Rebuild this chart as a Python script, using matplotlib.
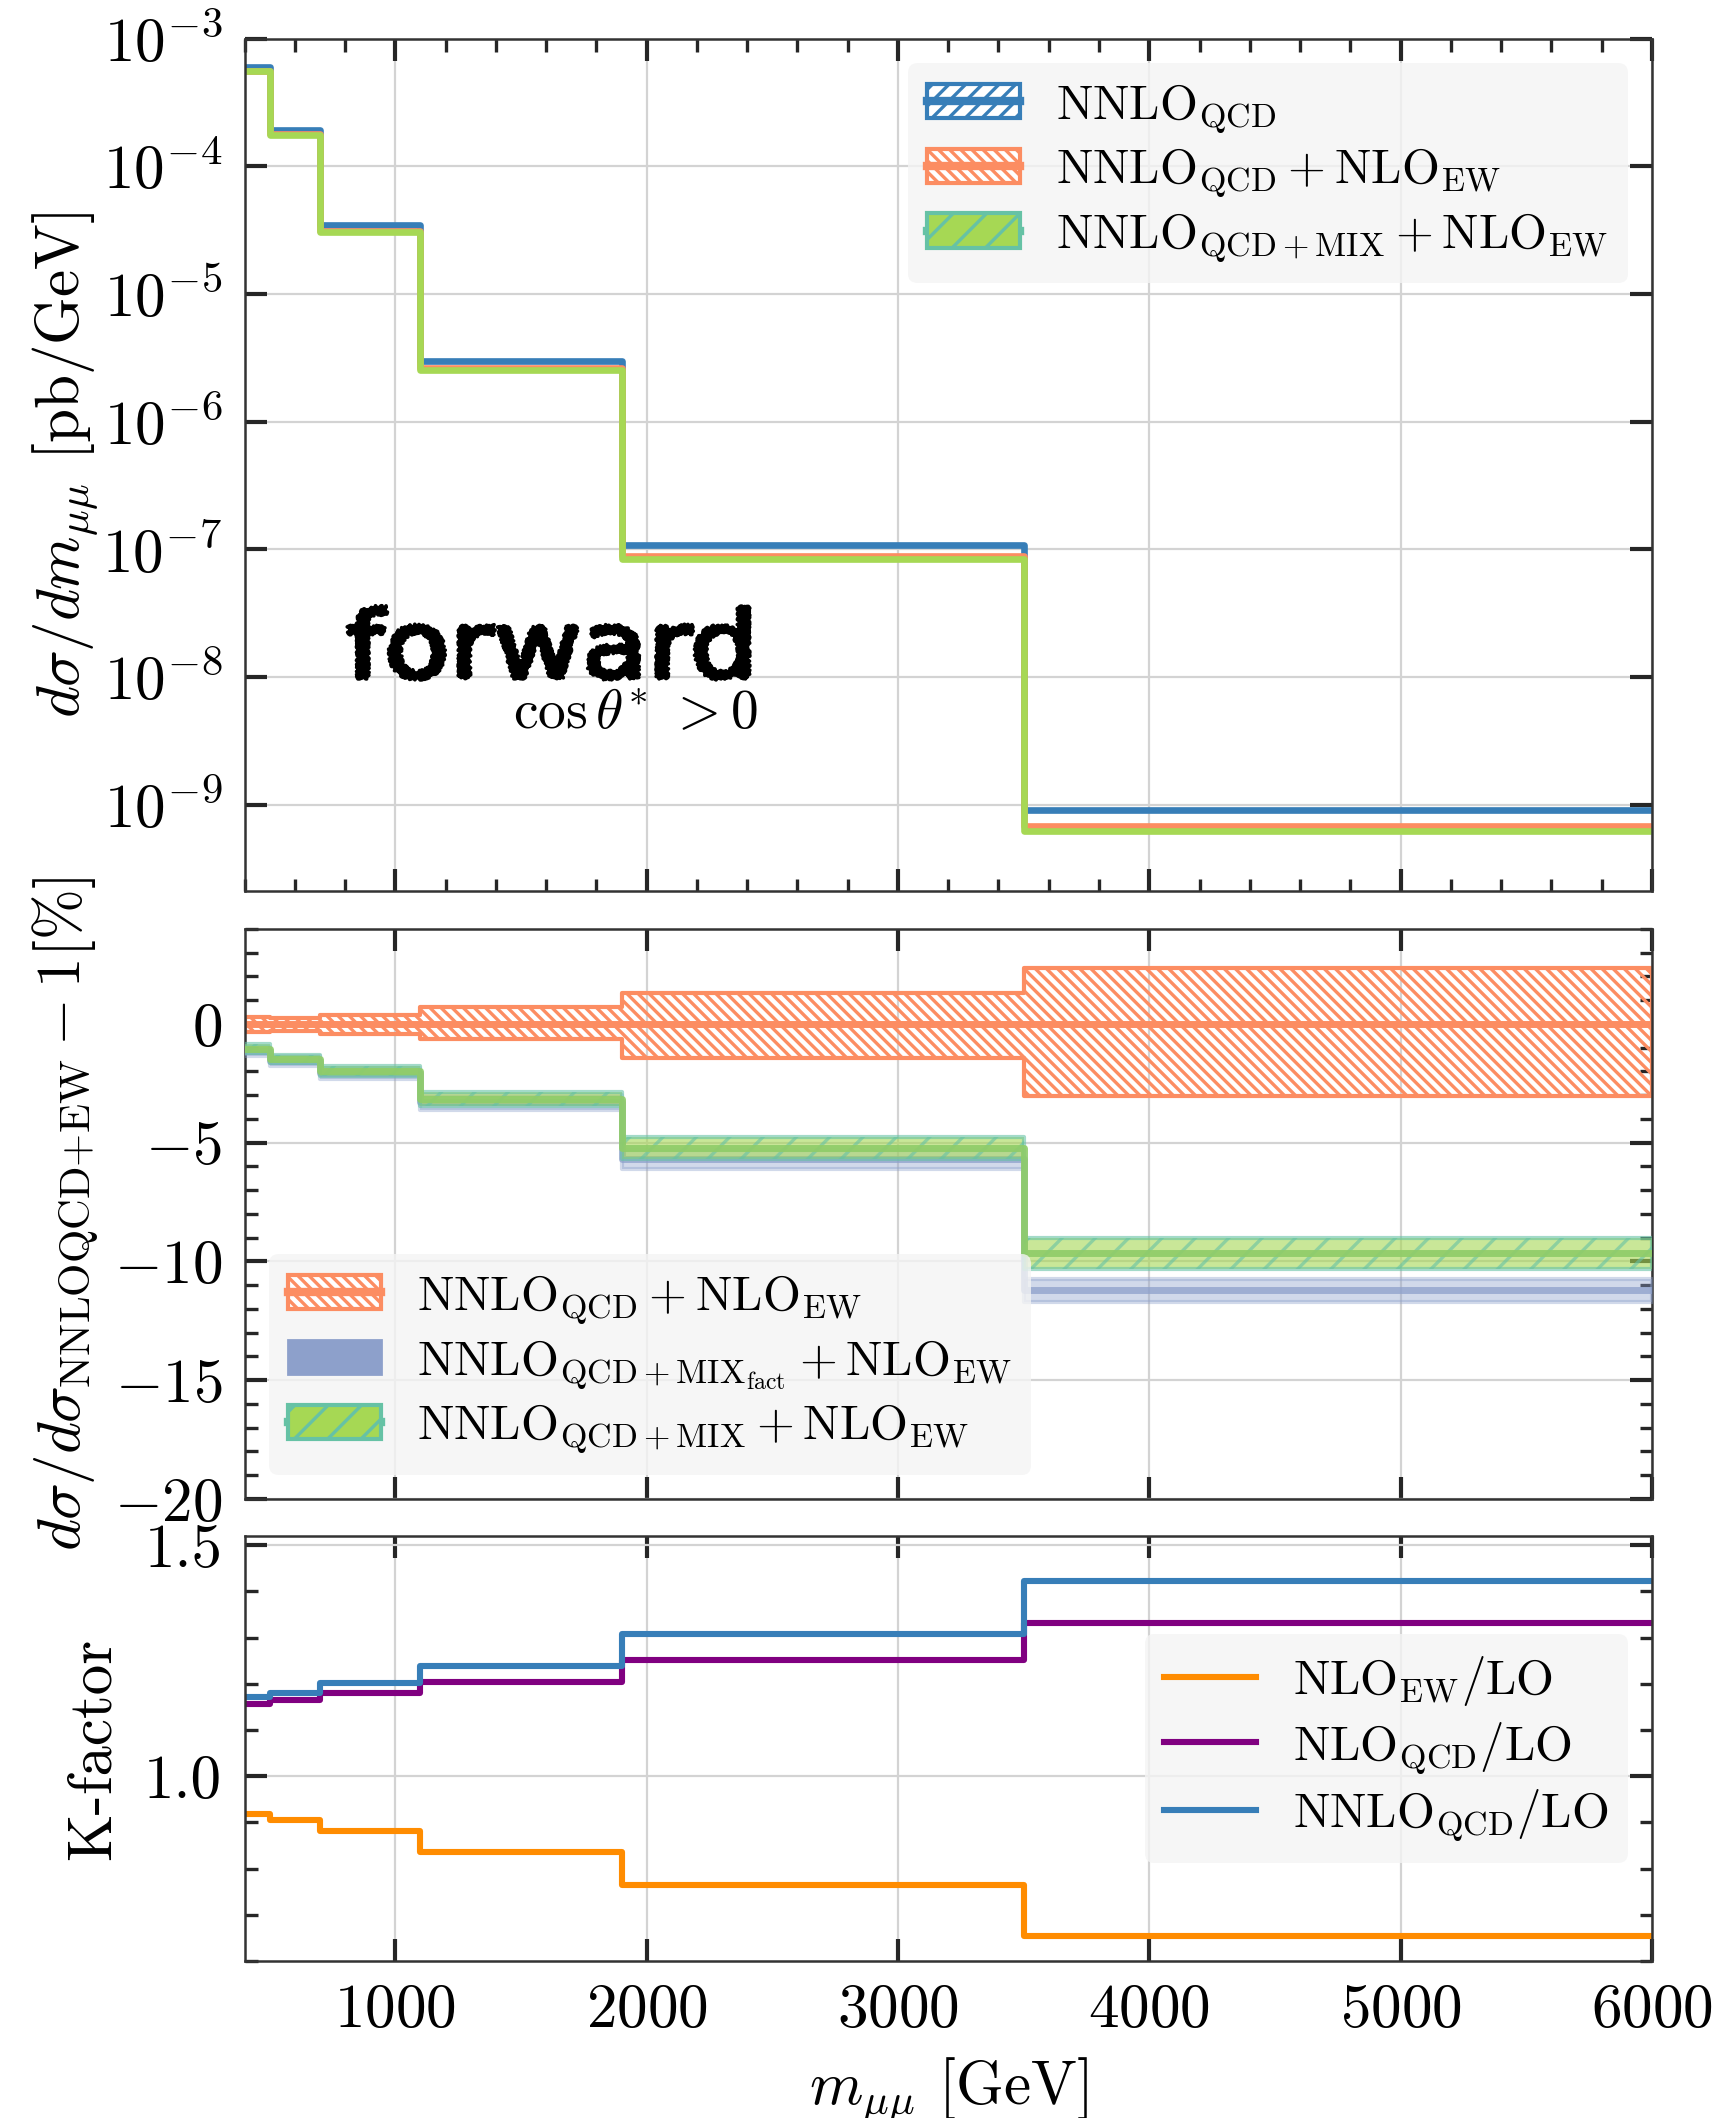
import matplotlib
matplotlib.use("Agg")
import matplotlib.pyplot as plt
import matplotlib.ticker as mticker
import matplotlib.transforms as mtransforms
import numpy as np
from matplotlib.patches import Patch, PathPatch
from matplotlib.lines import Line2D
from matplotlib.textpath import TextPath
from matplotlib.font_manager import FontProperties

plt.rcParams.update({
    'font.family': 'serif',
    'font.serif': ['cmr10'],
    'mathtext.fontset': 'cm',
    'axes.formatter.use_mathtext': True,
    'axes.unicode_minus': True,
    'hatch.linewidth': 1.2,
    'axes.edgecolor': '#333333',
    'axes.linewidth': 0.9,
})

# invariant-mass bins [GeV]
bins = [400, 500, 700, 1100, 1900, 3500, 6000]

# dsigma/dm [pb/GeV]
xs_nnlo_qcd = [6.0e-4, 1.92e-4, 3.44e-5, 3.0e-6, 1.07e-7, 9.0e-10]
xs_nnlo_qcd_ew = [5.6e-4, 1.78e-4, 3.12e-5, 2.62e-6, 8.8e-8, 6.8e-10]
xs_mix_ew = [5.53e-4, 1.75e-4, 3.05e-5, 2.54e-6, 8.35e-8, 6.15e-10]

# ratio to NNLO_QCD+NLO_EW [%]
ew_up = [0.30, 0.25, 0.37, 0.70, 1.31, 2.35]
ew_dn = [-0.35, -0.28, -0.42, -0.63, -1.44, -3.05]
mix_c = [-1.04, -1.47, -1.98, -3.16, -5.22, -9.65]
mix_up = [-0.85, -1.30, -1.76, -2.87, -4.75, -9.0]
mix_dn = [-1.23, -1.65, -2.21, -3.45, -5.70, -10.3]
fact_c = [-1.15, -1.55, -2.08, -3.30, -5.70, -11.2]
fact_up = [-0.95, -1.35, -1.85, -3.00, -5.30, -10.72]
fact_dn = [-1.37, -1.75, -2.31, -3.62, -6.10, -11.71]

# K-factors
k_nlo_ew = [0.918, 0.906, 0.881, 0.836, 0.765, 0.655]
k_nlo_qcd = [1.157, 1.166, 1.181, 1.205, 1.252, 1.331]
k_nnlo_qcd = [1.171, 1.181, 1.202, 1.238, 1.307, 1.4225]

c_blue = '#377eb8'
c_orange = '#fc8d62'
c_green = '#a6d854'
c_teal = '#66c2a5'
c_fact = '#8da0cb'


def st(v):
    return np.append(v, v[-1])


def style_axis(ax, xminor=False):
    ax.set_xlim(400, 6000)
    ax.xaxis.set_major_locator(mticker.MultipleLocator(1000))
    if xminor:
        ax.xaxis.set_minor_locator(mticker.MultipleLocator(200))
    ax.tick_params(which='both', direction='in', top=True, right=True,
                   labelsize=22, pad=8, color='#262626')
    ax.tick_params(which='major', length=8, width=1.5)
    ax.tick_params(which='minor', length=4.5, width=1.2)
    ax.grid(True, which='major', color='#d3d3d3', lw=0.8)
    ax.set_axisbelow(True)


legend_kw = dict(fancybox=True, framealpha=0.8, facecolor='#f4f4f4',
                 edgecolor='none', fontsize=17.5, handlelength=1.9,
                 handletextpad=0.75, labelspacing=0.25)

fig = plt.figure(figsize=(8.61, 10.59), dpi=200)
ax1 = fig.add_axes([0.142, 0.5793, 0.8173, 0.4025])
ax2 = fig.add_axes([0.142, 0.2923, 0.8173, 0.2691])
ax3 = fig.add_axes([0.142, 0.0741, 0.8173, 0.2007])

# --- spectrum
ax1.set_yscale('log')
ax1.plot(bins, st(xs_nnlo_qcd), drawstyle='steps-post', color=c_blue, lw=2.4)
ax1.plot(bins, st(xs_nnlo_qcd_ew), drawstyle='steps-post', color=c_orange, lw=2.4)
ax1.plot(bins, st(xs_mix_ew), drawstyle='steps-post', color=c_green, lw=2.4)
ax1.set_ylim(2.1e-10, 1e-3)
style_axis(ax1, xminor=True)
ax1.yaxis.set_major_locator(mticker.LogLocator(base=10, numticks=20))
ax1.yaxis.set_minor_locator(mticker.NullLocator())
ax1.tick_params(labelbottom=False)
ax1.set_ylabel(r"$d\sigma/dm_{\mu\mu}$ [pb/GeV]", fontsize=22, labelpad=1)

h_blue = (Patch(fc='white', ec=c_blue, hatch='////', lw=1.5),
          Line2D([], [], color=c_blue, lw=3))
h_orange = (Patch(fc='white', ec=c_orange, hatch='\\' * 6, lw=1.5),
            Line2D([], [], color=c_orange, lw=3))
h_green = (Line2D([], [], color=c_teal, lw=3),
           Patch(fc=c_green, ec=c_teal, hatch='//', lw=1.5))
lab_qcd = r"$\mathrm{NNLO_{QCD}}$"
lab_ew = r"$\mathrm{NNLO_{QCD}+NLO_{EW}}$"
lab_mix = r"$\mathrm{NNLO_{QCD+MIX}+NLO_{EW}}$"
lab_fact = r"$\mathrm{NNLO_{QCD+MIX_{fact}}+NLO_{EW}}$"
ax1.legend([h_blue, h_orange, h_green], [lab_qcd, lab_ew, lab_mix],
           loc='upper right', **legend_kw)

# handwritten-style tag
tp = TextPath((0, 0), "forward", size=1,
              prop=FontProperties(family='DejaVu Sans', weight='normal'))
ext = tp.get_extents()
bx0, bx1, by0, by1 = 0.074, 0.358, 0.249, 0.333
tr = (mtransforms.Affine2D().translate(-ext.x0, -ext.y0)
      .scale((bx1 - bx0) / ext.width, (by1 - by0) / ext.height)
      .translate(bx0, by0) + ax1.transAxes)
word = PathPatch(tp, transform=tr, fc='black', ec='black', lw=1.3,
                 joinstyle='round', zorder=5)
word.set_sketch_params(scale=1.5, length=3, randomness=6)
ax1.add_patch(word)
ax1.text(0.278, 0.2076, r"$\cos\theta^{*}\ > 0$", transform=ax1.transAxes,
         ha='center', va='center', fontsize=20)

# --- ratio panel
ax2.fill_between(bins, st(ew_dn), st(ew_up), step='post', fc='none',
                 ec=c_orange, hatch='\\' * 6, lw=1.5, zorder=2)
ax2.plot(bins, st(np.zeros(len(ew_up))), drawstyle='steps-post',
         color=c_orange, lw=2.5, zorder=2)
ax2.fill_between(bins, st(fact_dn), st(fact_up), step='post',
                 fc=c_fact, ec=c_fact, alpha=0.4, lw=1.5, zorder=3)
ax2.plot(bins, st(fact_c), drawstyle='steps-post', color=c_fact,
         lw=2.5, alpha=0.75, zorder=3)
ax2.fill_between(bins, st(mix_dn), st(mix_up), step='post', fc=c_green,
                 ec=c_teal, alpha=0.6, hatch='//', lw=1.5, zorder=4)
ax2.plot(bins, st(mix_c), drawstyle='steps-post', color='#8fcc68',
         lw=2.5, alpha=0.9, zorder=4)
ax2.set_ylim(-20, 4)
style_axis(ax2)
ax2.yaxis.set_major_locator(mticker.MultipleLocator(5))
ax2.yaxis.set_minor_locator(mticker.MultipleLocator(1))
ax2.tick_params(labelbottom=False)
ax2.set_ylabel(r"$d\sigma/d\sigma_{\rm NNLOQCD{+}EW} - 1 [\%]$", fontsize=22,
               labelpad=5)
h_fact = Patch(fc=c_fact, ec=c_fact, lw=1.0)
ax2.legend([h_orange, h_fact, h_green], [lab_ew, lab_fact, lab_mix],
           loc='lower left', **legend_kw)

# --- K-factors
ax3.plot(bins, st(k_nlo_ew), drawstyle='steps-post', color='#ff8c00',
         lw=2.2, label=r"$\mathrm{NLO_{EW}/LO}$")
ax3.plot(bins, st(k_nlo_qcd), drawstyle='steps-post', color='#800080',
         lw=2.2, label=r"$\mathrm{NLO_{QCD}/LO}$")
ax3.plot(bins, st(k_nnlo_qcd), drawstyle='steps-post', color=c_blue,
         lw=2.2, label=r"$\mathrm{NNLO_{QCD}/LO}$")
ax3.set_ylim(0.6, 1.52)
style_axis(ax3)
ax3.yaxis.set_major_locator(mticker.MultipleLocator(0.5))
ax3.yaxis.set_minor_locator(mticker.MultipleLocator(0.1))
ax3.yaxis.set_major_formatter(mticker.FormatStrFormatter('%.1f'))
ax3.set_ylabel("K-factor", fontsize=22, labelpad=8)
ax3.set_xlabel(r"$m_{\mu\mu}$ [GeV]", fontsize=22, labelpad=6)
ax3.legend(loc='center right', **legend_kw)

fig.savefig("out.png", dpi=200)
